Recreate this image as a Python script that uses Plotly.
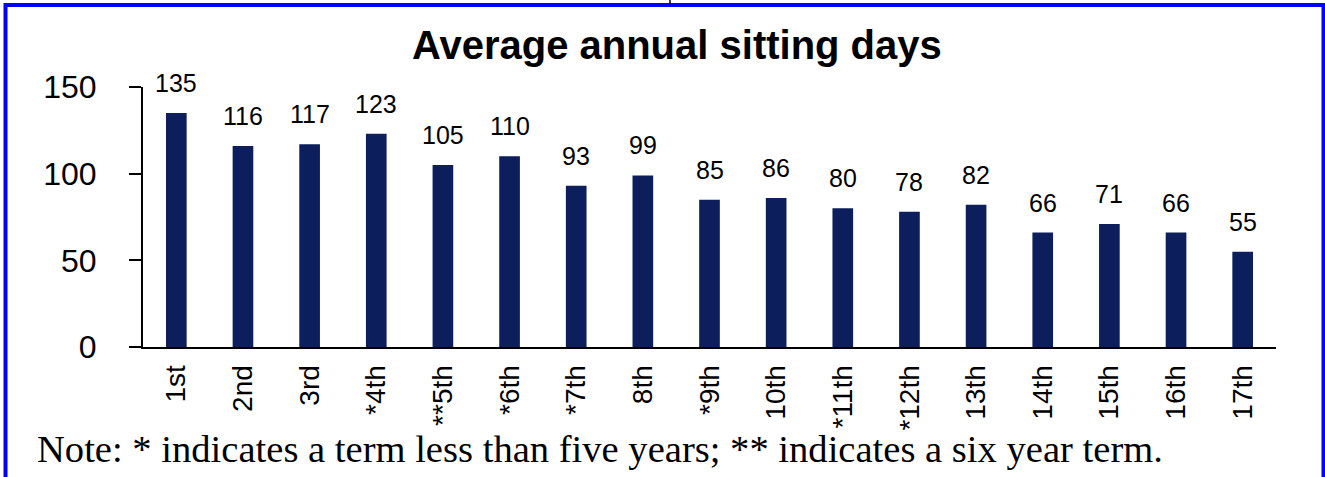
import plotly.graph_objects as go

categories = ["1st", "2nd", "3rd", "*4th", "**5th", "*6th", "*7th", "8th", "*9th",
              "10th", "*11th", "*12th", "13th", "14th", "15th", "16th", "17th"]
sitting_days = [135, 116, 117, 123, 105, 110, 93, 99, 85, 86, 80, 78, 82, 66, 71, 66, 55]
y_ticks = [0, 50, 100, 150]

W, H = 1325, 477
L, R, T, B = 143, 1276, 87, 347
pw, ph = R - L, B - T

def px(x):
    return (x - L) / pw

def py(y):
    return (B - y) / ph

SANS = "Liberation Sans, Arial, sans-serif"
SERIF = "Liberation Serif, Times New Roman, serif"
BAR = "#0c1f5c"

fig = go.Figure(go.Bar(
    x=categories, y=sitting_days, marker_color=BAR, marker_line_width=0,
    width=0.31, hoverinfo="x+y",
))

annotations = [
    dict(x=c, y=v, xref="x", yref="y", text=str(v), showarrow=False,
         yanchor="bottom", yshift=14, font=dict(family=SANS, size=25, color="black"))
    for c, v in zip(categories, sitting_days)
]
annotations.append(dict(
    x=px(677), y=py(45), xref="paper", yref="paper", text="<b>Average annual sitting days</b>",
    showarrow=False, xanchor="center", yanchor="middle",
    font=dict(family=SANS, size=40, color="black")))
annotations.append(dict(
    x=px(35), y=py(449), xref="paper", yref="paper",
    text="Note: * indicates a term less than five years; ** indicates a six year term.",
    showarrow=False, xanchor="left", yanchor="middle",
    font=dict(family=SERIF, size=38.6, color="black")))

shapes = [
    dict(type="rect", xref="paper", yref="paper",
         x0=px(5.5), x1=px(1323.5), y0=py(5), y1=py(490),
         line=dict(color="#0000ff", width=4), fillcolor="rgba(0,0,0,0)", layer="above"),
    dict(type="line", xref="paper", yref="paper",
         x0=px(670), x1=px(670), y0=py(0), y1=py(4),
         line=dict(color="black", width=1.5)),
]

fig.update_layout(
    width=W, height=H,
    margin=dict(l=L, r=W - R, t=T, b=H - B, pad=0),
    paper_bgcolor="white", plot_bgcolor="white",
    showlegend=False,
    annotations=annotations, shapes=shapes,
    font=dict(family=SANS, color="black"),
)
fig.update_xaxes(
    showline=True, linecolor="black", linewidth=2, showgrid=False,
    ticks="", tickangle=-90, tickfont=dict(family=SANS, size=28, color="black"),
    ticklabelstandoff=5,
)
fig.update_yaxes(
    range=[0, 150], tickvals=y_ticks, showline=True, linecolor="black", linewidth=2,
    showgrid=False, zeroline=False, ticks="outside", ticklen=12, tickwidth=2,
    tickcolor="black", tickfont=dict(family=SANS, size=32, color="black"),
    ticklabelstandoff=26,
)

fig.write_html(
    "out.html",
    config={"displayModeBar": False},
    post_script="document.body.style.margin='0';document.body.style.overflow='hidden';",
)
